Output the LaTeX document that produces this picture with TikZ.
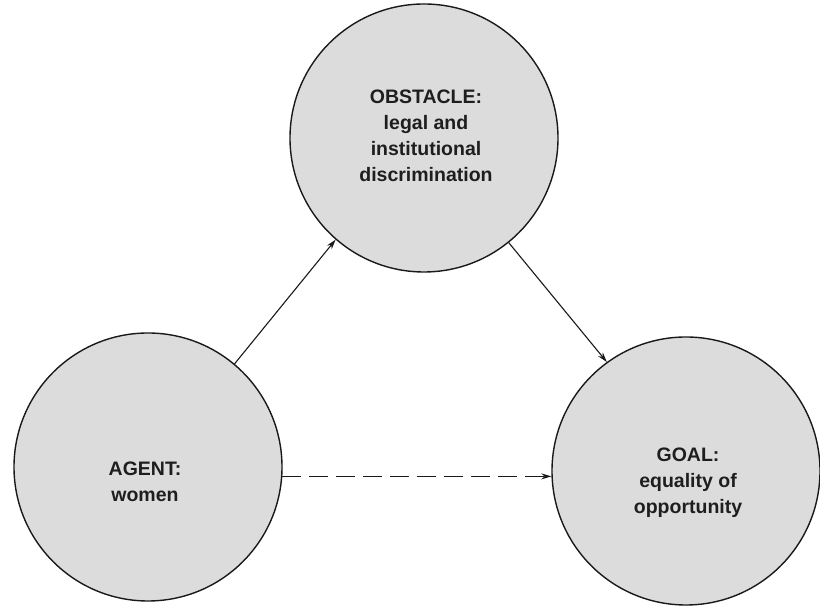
\documentclass[tikz,border=0pt]{standalone}
\usepackage{fontspec}
\setmainfont{Liberation Sans}
\usetikzlibrary{arrows.meta, positioning}
\definecolor{BubbleFill}{RGB}{220,220,220}
\definecolor{BubbleBorder}{RGB}{25,25,25}
\definecolor{LabelText}{RGB}{30,30,30}
\tikzset{
  every node/.style={font=\fontsize{19.5}{26}\selectfont\bfseries, text=LabelText},
  bubble/.style={circle, draw=BubbleBorder, fill=BubbleFill, line width=1.4pt,
                 minimum size=268pt, inner sep=0pt, align=center},
  arr/.style={-{Stealth[length=10pt,width=6pt]}, line width=1.1pt, BubbleBorder},
  dasharr/.style={arr, dash pattern=on 19pt off 8pt}
}

\begin{document}
\begin{tikzpicture}[x=1pt,y=1pt]
\useasboundingbox (0,0) rectangle (820,609);

% The three circles
\node[bubble] (obstacle) at (424,471) {};
\node[bubble] (agent) at (148,142) {};
\node[bubble] (goal) at (686,138) {};

% Labels inside the circles
\node[align=center] (obstacletext) at (426,473)
  {OBSTACLE:\\legal and\\institutional\\discrimination};
\node[align=center] (agenttext) at (145,127) {AGENT:\\women};
\node[align=center] (goaltext) at (688,126) {GOAL:\\equality of\\opportunity};

% Connectors
\draw[arr] (agent.50) -- (obstacle.229);
\draw[arr] (obstacle.309) -- (goal.126);
\draw[dasharr] (agent.356) -- (agent.356 -| goal.west);

\end{tikzpicture}
\end{document}
